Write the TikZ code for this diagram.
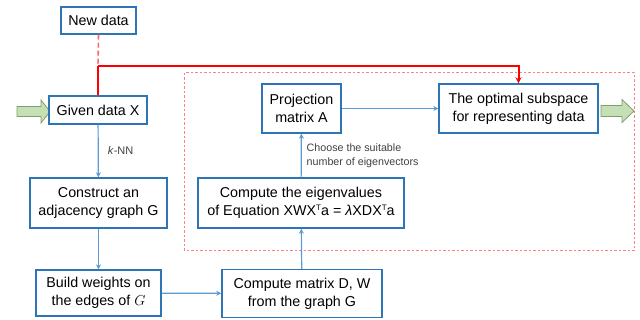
\documentclass[tikz,border=0pt]{standalone}
\usepackage{fontspec}
\setmainfont{Liberation Sans}
\usetikzlibrary{arrows.meta}
\definecolor{boxblue}{HTML}{2E75B6}
\definecolor{lineblue}{HTML}{5B9BD5}
\definecolor{arrowgreen}{HTML}{C5E0B4}
\definecolor{arrowedge}{HTML}{7F9F6F}
\definecolor{lightred}{HTML}{FF6666}
\definecolor{dotred}{HTML}{FF8080}
\definecolor{labelgray}{HTML}{404040}
\newcommand{\supT}{\raisebox{5.5pt}{\fontsize{8}{8}\selectfont T}}
\tikzset{
  box/.style={draw=boxblue, line width=1.4pt, fill=white, align=center, inner sep=0pt,
    font=\fontsize{14.3}{18}\selectfont, text=black},
  conn/.style={draw=lineblue, line width=1.2pt, -{Stealth[length=5pt,width=5pt]}},
  redline/.style={draw=red, line width=2pt},
  reddash/.style={draw=lightred, line width=1.6pt, dash pattern=on 5pt off 3pt},
  groupbox/.style={draw=dotred, line width=1pt, dash pattern=on 2.5pt off 2pt},
  greenarrow/.style={draw=arrowedge, fill=arrowgreen, line width=0.8pt, line join=miter},
  small/.style={font=\fontsize{10.7}{14}\selectfont, text=labelgray, align=left, inner sep=0pt}
}
\begin{document}
\begin{tikzpicture}[x=1pt,y=-1pt]
\useasboundingbox (0,0) rectangle (640,320);
% group box
\draw[groupbox] (184.5,73) rectangle (634,251);
% green arrows
\draw[greenarrow] (17,106.5) -- (41,106.5) -- (41,100) -- (50,111.5) -- (41,123) -- (41,116.5) -- (17,116.5) -- cycle;
\draw[greenarrow] (601,105.5) -- (622,105.5) -- (622,99.5) -- (634,111) -- (622,122.5) -- (622,116.5) -- (601,116.5) -- cycle;
% nodes
\node[box, minimum width=75pt, minimum height=27pt] (new) at (98.5,20.5) {New data};
\node[box, minimum width=98pt, minimum height=28pt] (given) at (98,110) {Given data X};
\node[box, minimum width=137pt, minimum height=50pt] (construct) at (98.5,203) {Construct an\\adjacency graph G};
\node[box, minimum width=125pt, minimum height=46pt] (build) at (98.5,293) {Build weights on\\the edges of $G$};
\node[box, minimum width=160pt, minimum height=48pt] (dw) at (302,293.5) {Compute matrix D, W\\from the graph G};
\node[box, minimum width=206pt, minimum height=50pt] (eig) at (301,203) {Compute the eigenvalues\\of Equation XWX\supT a = \textit{λ}XDX\supT a};
\node[box, minimum width=79pt, minimum height=49pt] (proj) at (301.5,108.5) {Projection\\matrix A};
\node[box, minimum width=159pt, minimum height=49pt] (sub) at (518.5,108.5) {The optimal subspace\\for representing data};
% red connections
\coordinate (split) at (98,66);
\draw[reddash] (new.south) -- (split);
\draw[redline] (split) -- (given.north);
\draw[redline, -{Stealth[length=6pt,width=6pt]}] (split) -| (sub.north);
% blue connectors
\draw[conn] (given) -- (construct) node[pos=0.5, right=9pt, font=\fontsize{11}{13}\selectfont, text=labelgray, inner sep=0pt] (knn) {\textit{k}-NN};
\draw[conn] (construct) -- (build);
\draw[conn] (build) -- (dw);
\draw[conn] (dw) -- (eig);
\draw[conn] (eig) -- (proj);
\draw[conn] (proj) -- (sub);
\node[small, anchor=west] (choose) at (306.5,155.5) {Choose the suitable\\number of eigenvectors};
\end{tikzpicture}
\end{document}
